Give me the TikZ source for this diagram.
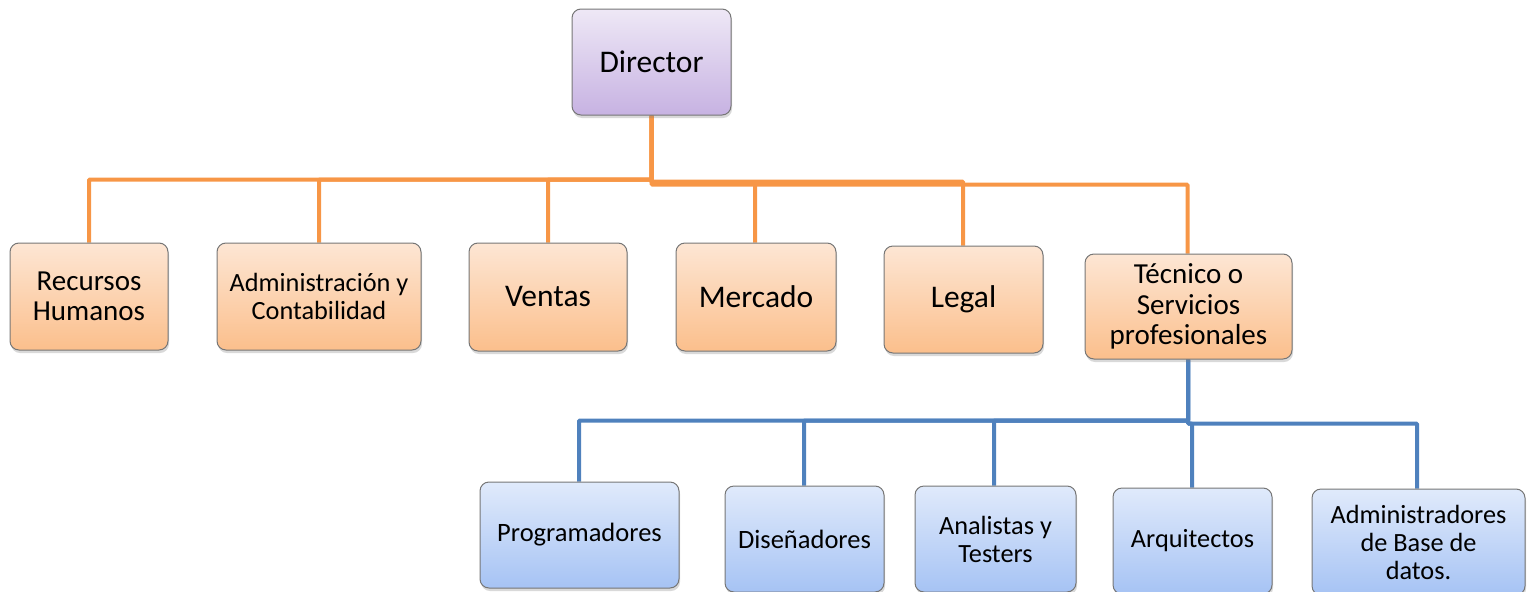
\documentclass[tikz,border=0pt]{standalone}
\usepackage{fontspec}
\setmainfont{Carlito}
\usetikzlibrary{shadows,backgrounds}
\definecolor{oline}{HTML}{F79646}
\definecolor{bline}{HTML}{4F81BD}
\definecolor{otop}{HTML}{FDE6D4}
\definecolor{obot}{HTML}{FBBF8C}
\definecolor{btop}{HTML}{E0EAFB}
\definecolor{bbot}{HTML}{A6C3F4}
\definecolor{ptop}{HTML}{EEE8F6}
\definecolor{pbot}{HTML}{C7B2E2}
\definecolor{bord}{HTML}{767676}
\tikzset{
  box/.style={draw=bord, line width=1pt, rounded corners=9pt, align=center,
    inner sep=2pt, text=black,
    drop shadow={opacity=0.3, shadow xshift=1pt, shadow yshift=-3pt}},
  pbox/.style={box, top color=ptop, bottom color=pbot},
  obox/.style={box, top color=otop, bottom color=obot},
  bbox/.style={box, top color=btop, bottom color=bbot},
  oconn/.style={draw=oline, line width=4pt, rounded corners=1pt},
  bconn/.style={draw=bline, line width=4pt, rounded corners=1pt},
  fA/.style={font=\fontsize{31.5}{37}\selectfont},
  fB/.style={font=\fontsize{29}{30.5}\selectfont},
  fC/.style={font=\fontsize{26.3}{28}\selectfont},
  fD/.style={font=\fontsize{26.5}{30}\selectfont},
  fE/.style={font=\fontsize{26.3}{28}\selectfont},
}
\begin{document}
\begin{tikzpicture}[x=1pt,y=-1pt]
\useasboundingbox (0,0) rectangle (1535,592);
% level 0
\node[pbox,fA,minimum width=159pt,minimum height=106pt] (dir) at (651.5,62) {Director};
% level 1
\node[obox,fB,minimum width=158pt,minimum height=107pt] (rh) at (89,296.5) {Recursos\\Humanos};
\node[obox,fC,minimum width=204pt,minimum height=107pt] (adm) at (319,296.5) {Administración y\\Contabilidad};
\node[obox,fA,minimum width=158pt,minimum height=108pt] (ven) at (548,297) {Ventas};
\node[obox,fA,minimum width=160pt,minimum height=108pt] (mer) at (756,297) {Mercado};
\node[obox,fA,minimum width=159pt,minimum height=107pt] (leg) at (963.5,299.5) {Legal};
\node[obox,fB,minimum width=207pt,minimum height=105pt] (tec) at (1188.5,306.5) {Técnico o\\Servicios\\profesionales};
% level 2
\node[bbox,fD,minimum width=199pt,minimum height=106pt] (prog) at (579.5,535) {Programadores};
\node[bbox,fD,minimum width=159pt,minimum height=106pt] (dis) at (804.5,539) {Diseñadores};
\node[bbox,fE,minimum width=161pt,minimum height=106pt] (ana) at (995.5,539) {Analistas y\\Testers};
\node[bbox,fE,minimum width=159pt,minimum height=106pt] (arq) at (1192.5,541) {Arquitectos};
\node[bbox,fE,minimum width=213pt,minimum height=106pt] (abd) at (1418.5,542) {Administradores\\de Base de\\datos.};
\begin{pgfonlayer}{background}
\draw[oconn] (dir.south) -- ++(0,64) -| (rh.north);
\draw[oconn] (dir.south) -- ++(0,64) -| (adm.north);
\draw[oconn] (dir.south) -- ++(0,64) -| (ven.north);
\draw[oconn] (dir.south) -- ++(0,67) -| ([xshift=-1pt]mer.north);
\draw[oconn] (dir.south) -- ++(0,66) -| ([xshift=-0.5pt]leg.north);
\draw[oconn] (dir.south) -- ++(0,69) -| ([xshift=-1pt]tec.north);
\draw[bconn] ([xshift=-0.5pt]tec.south) -- ++(0,61) -| ([xshift=-0.5pt]prog.north);
\draw[bconn] ([xshift=-0.5pt]tec.south) -- ++(0,61) -| ([xshift=-0.5pt]dis.north);
\draw[bconn] ([xshift=-0.5pt]tec.south) -- ++(0,61) -| ([xshift=-1.5pt]ana.north);
\draw[bconn] ([xshift=-0.5pt]tec.south) -- ++(0,64) -| ([xshift=-0.5pt]arq.north);
\draw[bconn] ([xshift=-0.5pt]tec.south) -- ++(0,64) -| ([xshift=-1.5pt]abd.north);
\end{pgfonlayer}
\end{tikzpicture}
\end{document}
